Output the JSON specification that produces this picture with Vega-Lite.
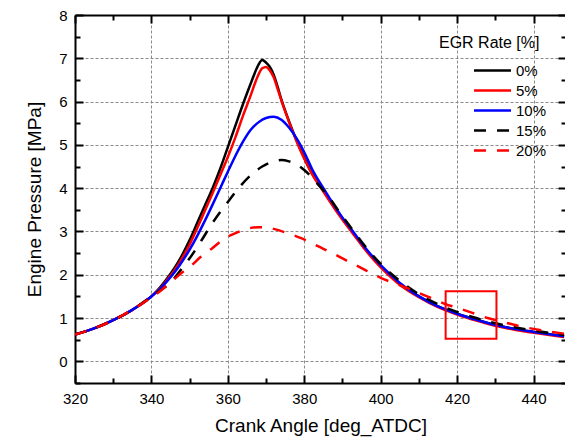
{
  "$schema": "https://vega.github.io/schema/vega-lite/v6.json",
  "autosize": {"type": "none"},
  "padding": {"left": 75, "top": 15, "right": 0, "bottom": 60},
  "width": 491,
  "height": 368,
  "config": {
    "font": "Liberation Sans",
    "view": {"stroke": null},
    "axis": {
      "domainColor": "black", "domainWidth": 2, "tickColor": "black", "tickWidth": 2,
      "labelColor": "black", "labelFontSize": 15, "titleColor": "black", "titleFontSize": 19,
      "titleFontWeight": "normal", "gridColor": "#8a8a8a", "gridDash": [3, 2], "gridWidth": 1
    }
  },
  "datasets": {
    "box": [{"x1": 417, "x2": 430.3, "y1": 0.52, "y2": 1.62}]
  },
  "data": {"values": [
    {"a":320,"p":0.62,"s":"0%"},{"a":325,"p":0.76,"s":"0%"},{"a":330,"p":0.95,"s":"0%"},{"a":335,"p":1.19,"s":"0%"},{"a":340,"p":1.5,"s":"0%"},{"a":342,"p":1.68,"s":"0%"},{"a":344,"p":1.9,"s":"0%"},{"a":346,"p":2.15,"s":"0%"},{"a":348,"p":2.45,"s":"0%"},{"a":350,"p":2.8,"s":"0%"},{"a":352,"p":3.2,"s":"0%"},{"a":354,"p":3.6,"s":"0%"},{"a":356,"p":4.0,"s":"0%"},{"a":358,"p":4.45,"s":"0%"},{"a":360,"p":4.95,"s":"0%"},{"a":362,"p":5.45,"s":"0%"},{"a":364,"p":5.95,"s":"0%"},{"a":366,"p":6.42,"s":"0%"},{"a":367,"p":6.65,"s":"0%"},{"a":368,"p":6.85,"s":"0%"},{"a":369,"p":6.96,"s":"0%"},{"a":370,"p":6.9,"s":"0%"},{"a":371,"p":6.8,"s":"0%"},{"a":372,"p":6.62,"s":"0%"},{"a":373,"p":6.35,"s":"0%"},{"a":374,"p":6.05,"s":"0%"},{"a":376,"p":5.55,"s":"0%"},{"a":378,"p":5.1,"s":"0%"},{"a":380,"p":4.7,"s":"0%"},{"a":382,"p":4.35,"s":"0%"},{"a":385,"p":3.95,"s":"0%"},{"a":388,"p":3.55,"s":"0%"},{"a":390,"p":3.3,"s":"0%"},{"a":393,"p":2.95,"s":"0%"},{"a":396,"p":2.6,"s":"0%"},{"a":400,"p":2.2,"s":"0%"},{"a":405,"p":1.8,"s":"0%"},{"a":410,"p":1.5,"s":"0%"},{"a":415,"p":1.27,"s":"0%"},{"a":420,"p":1.1,"s":"0%"},{"a":425,"p":0.96,"s":"0%"},{"a":430,"p":0.84,"s":"0%"},{"a":435,"p":0.75,"s":"0%"},{"a":440,"p":0.68,"s":"0%"},{"a":448,"p":0.58,"s":"0%"},
    {"a":320,"p":0.62,"s":"5%"},{"a":325,"p":0.76,"s":"5%"},{"a":330,"p":0.95,"s":"5%"},{"a":335,"p":1.19,"s":"5%"},{"a":340,"p":1.5,"s":"5%"},{"a":342,"p":1.66,"s":"5%"},{"a":344,"p":1.87,"s":"5%"},{"a":346,"p":2.1,"s":"5%"},{"a":348,"p":2.38,"s":"5%"},{"a":350,"p":2.7,"s":"5%"},{"a":352,"p":3.08,"s":"5%"},{"a":354,"p":3.48,"s":"5%"},{"a":356,"p":3.88,"s":"5%"},{"a":358,"p":4.3,"s":"5%"},{"a":360,"p":4.72,"s":"5%"},{"a":362,"p":5.18,"s":"5%"},{"a":364,"p":5.68,"s":"5%"},{"a":366,"p":6.15,"s":"5%"},{"a":367,"p":6.4,"s":"5%"},{"a":368,"p":6.62,"s":"5%"},{"a":369,"p":6.77,"s":"5%"},{"a":370,"p":6.8,"s":"5%"},{"a":371,"p":6.72,"s":"5%"},{"a":372,"p":6.56,"s":"5%"},{"a":373,"p":6.3,"s":"5%"},{"a":374,"p":6.03,"s":"5%"},{"a":376,"p":5.53,"s":"5%"},{"a":378,"p":5.08,"s":"5%"},{"a":380,"p":4.68,"s":"5%"},{"a":382,"p":4.33,"s":"5%"},{"a":385,"p":3.92,"s":"5%"},{"a":388,"p":3.52,"s":"5%"},{"a":390,"p":3.27,"s":"5%"},{"a":393,"p":2.92,"s":"5%"},{"a":396,"p":2.57,"s":"5%"},{"a":400,"p":2.17,"s":"5%"},{"a":405,"p":1.77,"s":"5%"},{"a":410,"p":1.48,"s":"5%"},{"a":415,"p":1.25,"s":"5%"},{"a":420,"p":1.08,"s":"5%"},{"a":425,"p":0.94,"s":"5%"},{"a":430,"p":0.82,"s":"5%"},{"a":435,"p":0.73,"s":"5%"},{"a":440,"p":0.66,"s":"5%"},{"a":448,"p":0.56,"s":"5%"},
    {"a":320,"p":0.62,"s":"10%"},{"a":325,"p":0.76,"s":"10%"},{"a":330,"p":0.95,"s":"10%"},{"a":335,"p":1.19,"s":"10%"},{"a":340,"p":1.5,"s":"10%"},{"a":342,"p":1.65,"s":"10%"},{"a":344,"p":1.84,"s":"10%"},{"a":346,"p":2.05,"s":"10%"},{"a":348,"p":2.3,"s":"10%"},{"a":350,"p":2.58,"s":"10%"},{"a":352,"p":2.9,"s":"10%"},{"a":354,"p":3.25,"s":"10%"},{"a":356,"p":3.62,"s":"10%"},{"a":358,"p":4.0,"s":"10%"},{"a":360,"p":4.38,"s":"10%"},{"a":362,"p":4.75,"s":"10%"},{"a":364,"p":5.08,"s":"10%"},{"a":366,"p":5.35,"s":"10%"},{"a":368,"p":5.52,"s":"10%"},{"a":370,"p":5.62,"s":"10%"},{"a":372,"p":5.65,"s":"10%"},{"a":374,"p":5.58,"s":"10%"},{"a":376,"p":5.4,"s":"10%"},{"a":378,"p":5.15,"s":"10%"},{"a":380,"p":4.83,"s":"10%"},{"a":382,"p":4.45,"s":"10%"},{"a":385,"p":4.0,"s":"10%"},{"a":388,"p":3.58,"s":"10%"},{"a":390,"p":3.32,"s":"10%"},{"a":393,"p":2.97,"s":"10%"},{"a":396,"p":2.62,"s":"10%"},{"a":400,"p":2.22,"s":"10%"},{"a":405,"p":1.81,"s":"10%"},{"a":410,"p":1.5,"s":"10%"},{"a":415,"p":1.27,"s":"10%"},{"a":420,"p":1.1,"s":"10%"},{"a":425,"p":0.96,"s":"10%"},{"a":430,"p":0.84,"s":"10%"},{"a":435,"p":0.75,"s":"10%"},{"a":440,"p":0.68,"s":"10%"},{"a":448,"p":0.58,"s":"10%"},
    {"a":320,"p":0.62,"s":"15%"},{"a":325,"p":0.76,"s":"15%"},{"a":330,"p":0.95,"s":"15%"},{"a":335,"p":1.19,"s":"15%"},{"a":340,"p":1.5,"s":"15%"},{"a":342,"p":1.62,"s":"15%"},{"a":345,"p":1.82,"s":"15%"},{"a":348,"p":2.15,"s":"15%"},{"a":350,"p":2.38,"s":"15%"},{"a":353,"p":2.78,"s":"15%"},{"a":356,"p":3.2,"s":"15%"},{"a":358,"p":3.45,"s":"15%"},{"a":360,"p":3.68,"s":"15%"},{"a":363,"p":4.02,"s":"15%"},{"a":366,"p":4.3,"s":"15%"},{"a":369,"p":4.5,"s":"15%"},{"a":372,"p":4.62,"s":"15%"},{"a":374,"p":4.65,"s":"15%"},{"a":376,"p":4.62,"s":"15%"},{"a":378,"p":4.55,"s":"15%"},{"a":380,"p":4.42,"s":"15%"},{"a":382,"p":4.25,"s":"15%"},{"a":384,"p":4.05,"s":"15%"},{"a":386,"p":3.85,"s":"15%"},{"a":388,"p":3.6,"s":"15%"},{"a":390,"p":3.35,"s":"15%"},{"a":393,"p":3.0,"s":"15%"},{"a":396,"p":2.65,"s":"15%"},{"a":400,"p":2.25,"s":"15%"},{"a":405,"p":1.86,"s":"15%"},{"a":410,"p":1.55,"s":"15%"},{"a":415,"p":1.32,"s":"15%"},{"a":420,"p":1.14,"s":"15%"},{"a":425,"p":1.0,"s":"15%"},{"a":430,"p":0.88,"s":"15%"},{"a":435,"p":0.79,"s":"15%"},{"a":440,"p":0.71,"s":"15%"},{"a":448,"p":0.61,"s":"15%"},
    {"a":320,"p":0.62,"s":"20%"},{"a":325,"p":0.76,"s":"20%"},{"a":330,"p":0.95,"s":"20%"},{"a":335,"p":1.19,"s":"20%"},{"a":340,"p":1.48,"s":"20%"},{"a":342,"p":1.6,"s":"20%"},{"a":344,"p":1.75,"s":"20%"},{"a":346,"p":1.9,"s":"20%"},{"a":348,"p":2.05,"s":"20%"},{"a":350,"p":2.18,"s":"20%"},{"a":353,"p":2.42,"s":"20%"},{"a":356,"p":2.62,"s":"20%"},{"a":359,"p":2.83,"s":"20%"},{"a":362,"p":2.96,"s":"20%"},{"a":365,"p":3.06,"s":"20%"},{"a":368,"p":3.1,"s":"20%"},{"a":370,"p":3.1,"s":"20%"},{"a":372,"p":3.06,"s":"20%"},{"a":375,"p":2.98,"s":"20%"},{"a":379,"p":2.85,"s":"20%"},{"a":382,"p":2.73,"s":"20%"},{"a":385,"p":2.6,"s":"20%"},{"a":388,"p":2.47,"s":"20%"},{"a":391,"p":2.33,"s":"20%"},{"a":394,"p":2.2,"s":"20%"},{"a":397,"p":2.06,"s":"20%"},{"a":400,"p":1.93,"s":"20%"},{"a":404,"p":1.79,"s":"20%"},{"a":407,"p":1.69,"s":"20%"},{"a":410,"p":1.58,"s":"20%"},{"a":413,"p":1.47,"s":"20%"},{"a":417,"p":1.32,"s":"20%"},{"a":420,"p":1.24,"s":"20%"},{"a":424,"p":1.12,"s":"20%"},{"a":428,"p":1.0,"s":"20%"},{"a":432,"p":0.91,"s":"20%"},{"a":436,"p":0.82,"s":"20%"},{"a":440,"p":0.75,"s":"20%"},{"a":444,"p":0.69,"s":"20%"},{"a":448,"p":0.64,"s":"20%"}
  ]},
  "layer": [
    {
      "mark": {"type": "line", "interpolate": "monotone", "strokeWidth": 2.5, "clip": true},
      "encoding": {
        "x": {"field": "a", "type": "quantitative",
          "scale": {"domain": [320, 448.5], "nice": false, "zero": false},
          "axis": {"orient": "bottom", "title": "Crank Angle [deg_ATDC]",
            "values": [320,330,340,350,360,370,380,390,400,410,420,430,440],
            "labelExpr": "datum.value % 20 === 0 ? datum.label : ''",
            "tickSize": -8,
            "tickDash": {"condition": {"test": "datum.value % 20 === 0", "value": [20, 0]}, "value": [5, 20]},
            "grid": true,
            "gridOpacity": {"condition": {"test": "datum.value % 20 === 0", "value": 1}, "value": 0},
            "labelPadding": 16, "titlePadding": 10, "labelFlush": false}},
        "y": {"field": "p", "type": "quantitative",
          "scale": {"domain": [-0.5, 8], "nice": false, "zero": false},
          "axis": {"orient": "left", "title": "Engine Pressure [MPa]",
            "values": [-0.5,0,0.5,1,1.5,2,2.5,3,3.5,4,4.5,5,5.5,6,6.5,7,7.5,8],
            "labelExpr": "datum.value % 1 === 0 ? format(datum.value, 'd') : ''",
            "tickSize": -8,
            "tickDash": {"condition": {"test": "datum.value % 1 === 0", "value": [20, 0]}, "value": [5, 20]},
            "grid": true,
            "gridOpacity": {"condition": {"test": "datum.value % 1 === 0", "value": 1}, "value": 0},
            "labelPadding": 16, "titlePadding": 14, "labelFlush": false}},
        "color": {"field": "s", "type": "nominal",
          "scale": {"domain": ["0%","5%","10%","15%","20%"], "range": ["#000000","#ff0000","#0000ff","#000000","#ff0000"]},
          "legend": {"orient": "none", "legendX": 364, "legendY": 20, "title": "EGR Rate [%]",
            "titleFontSize": 16, "titleFontWeight": "normal", "titleColor": "black",
            "labelFontSize": 15, "labelColor": "black", "symbolType": "M-2.96,0H2.96", "symbolSize": 156,
            "symbolStrokeWidth": 2.5, "symbolOffset": 46, "rowPadding": 4, "labelOffset": 16, "titlePadding": 12}},
        "strokeDash": {"field": "s", "type": "nominal",
          "scale": {"domain": ["0%","5%","10%","15%","20%"], "range": [[600,0],[600,0],[600,0],[12,11],[12,11]]},
          "legend": {"orient": "none", "legendX": 364, "legendY": 20, "title": "EGR Rate [%]",
            "titleFontSize": 16, "titleFontWeight": "normal", "titleColor": "black",
            "labelFontSize": 15, "labelColor": "black", "symbolType": "M-2.96,0H2.96", "symbolSize": 156,
            "symbolStrokeWidth": 2.5, "symbolOffset": 46, "rowPadding": 4, "labelOffset": 16, "titlePadding": 12}}
      }
    },
    {
      "mark": {"type": "point", "opacity": 0},
      "encoding": {
        "x": {"field": "a", "type": "quantitative",
          "scale": {"domain": [320, 448.5], "nice": false, "zero": false},
          "axis": {"orient": "top", "title": null, "labels": false, "grid": false,
            "values": [320,330,340,350,360,370,380,390,400,410,420,430,440], "tickSize": -8,
            "tickDash": {"condition": {"test": "datum.value % 20 === 0", "value": [20, 0]}, "value": [5, 20]}}},
        "y": {"field": "p", "type": "quantitative",
          "scale": {"domain": [-0.5, 8], "nice": false, "zero": false},
          "axis": {"orient": "right", "title": null, "labels": false, "grid": false,
            "values": [-0.5,0,0.5,1,1.5,2,2.5,3,3.5,4,4.5,5,5.5,6,6.5,7,7.5,8], "tickSize": -8,
            "tickDash": {"condition": {"test": "datum.value % 1 === 0", "value": [20, 0]}, "value": [5, 20]}}}
      }
    },
    {
      "data": {"name": "box"},
      "mark": {"type": "rect", "fill": null, "fillOpacity": 0, "stroke": "#ff0000", "strokeWidth": 2},
      "encoding": {
        "x": {"field": "x1", "type": "quantitative",
          "scale": {"domain": [320, 448.5], "nice": false, "zero": false}, "axis": null},
        "x2": {"field": "x2"},
        "y": {"field": "y1", "type": "quantitative",
          "scale": {"domain": [-0.5, 8], "nice": false, "zero": false}, "axis": null},
        "y2": {"field": "y2"}
      }
    }
  ],
  "resolve": {"scale": {"x": "independent", "y": "independent"}, "axis": {"x": "independent", "y": "independent"}}
}
